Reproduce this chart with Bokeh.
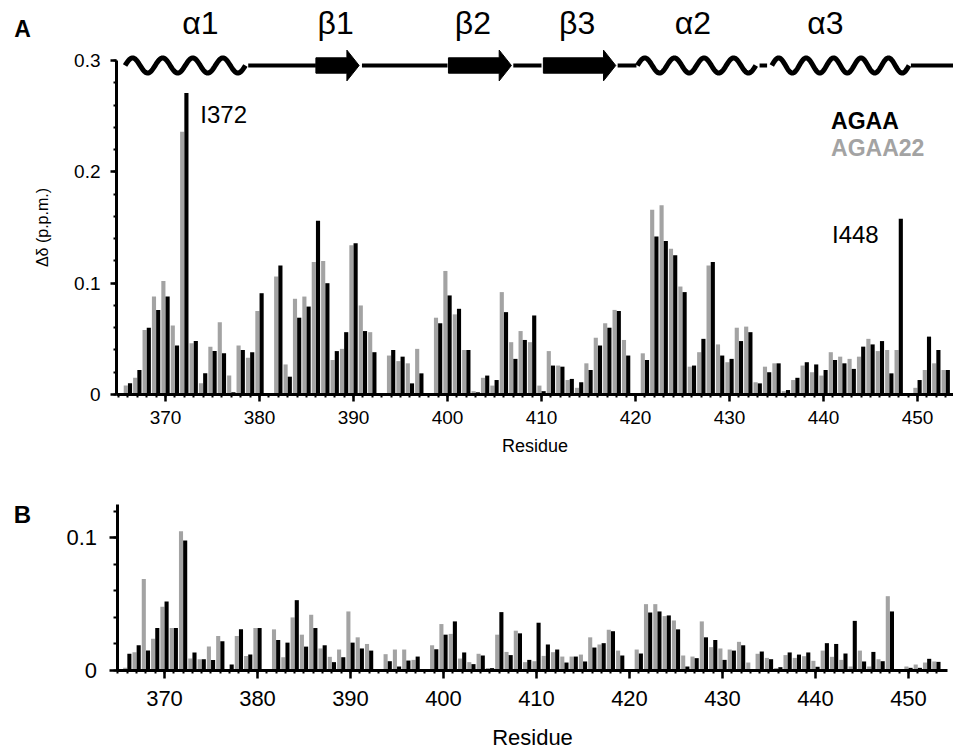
import numpy as np
from bokeh.plotting import figure
from bokeh.layouts import column
from bokeh.models import Range1d, FixedTicker, Label, ColumnDataSource
from bokeh.transform import dodge
from bokeh.embed import file_html
from bokeh.resources import INLINE

FONT = "Liberation Sans"
GRAY = "#a3a3a3"
BLACK = "#000000"

# Residues with measured chemical-shift perturbations (gaps: 381, 393, 398, 420, 449)
residue = [366, 367, 368, 369, 370, 371, 372, 373, 374, 375, 376, 377, 378, 379, 380,
           382, 383, 384, 385, 386, 387, 388, 389, 390, 391, 392,
           394, 395, 396, 397,
           399, 400, 401, 402, 403, 404, 405, 406, 407, 408, 409, 410, 411, 412, 413,
           414, 415, 416, 417, 418, 419,
           421, 422, 423, 424, 425, 426, 427, 428, 429, 430, 431, 432, 433, 434, 435,
           436, 437, 438, 439, 440, 441, 442, 443, 444, 445, 446, 447, 448,
           450, 451, 452, 453]

# Panel A: delta-delta (p.p.m.)
agaa_a = [0.010, 0.022, 0.060, 0.076, 0.088, 0.044, 0.271, 0.048, 0.019, 0.039, 0.037, 0.002, 0.040, 0.038, 0.091,
          0.116, 0.016, 0.069, 0.079, 0.156, 0.100, 0.039, 0.056, 0.136, 0.057, 0.038,
          0.040, 0.034, 0.010, 0.019,
          0.064, 0.089, 0.077, 0.040, 0.002, 0.017, 0.013, 0.074, 0.032, 0.049, 0.071, 0.003, 0.026, 0.025, 0.014,
          0.011, 0.022, 0.044, 0.060, 0.075, 0.035,
          0.031, 0.142, 0.138, 0.125, 0.092, 0.026, 0.050, 0.119, 0.035, 0.032, 0.048, 0.056, 0.010, 0.020, 0.028,
          0.004, 0.015, 0.029, 0.027, 0.022, 0.031, 0.028, 0.023, 0.043, 0.045, 0.048, 0.019, 0.158,
          0.013, 0.052, 0.040, 0.022]
agaa22_a = [0.008, 0.015, 0.058, 0.088, 0.102, 0.062, 0.236, 0.046, 0.010, 0.043, 0.065, 0.017, 0.044, 0.033, 0.075,
            0.106, 0.027, 0.086, 0.088, 0.119, 0.120, 0.031, 0.041, 0.134, 0.080, 0.056,
            0.035, 0.030, 0.028, 0.041,
            0.069, 0.111, 0.072, 0.040, 0.003, 0.015, 0.008, 0.092, 0.047, 0.057, 0.047, 0.008, 0.039, 0.026, 0.013,
            0.006, 0.028, 0.051, 0.064, 0.076, 0.049,
            0.037, 0.166, 0.170, 0.131, 0.097, 0.025, 0.038, 0.116, 0.045, 0.029, 0.060, 0.061, 0.011, 0.025, 0.028,
            0.003, 0.013, 0.026, 0.020, 0.017, 0.038, 0.034, 0.032, 0.034, 0.050, 0.039, 0.040, 0.040,
            0.006, 0.022, 0.028, 0.022]

# Panel B
agaa_b = [0.0126, 0.019, 0.015, 0.032, 0.052, 0.032, 0.098, 0.0136, 0.0085, 0.008, 0.022, 0.0045, 0.031, 0.012, 0.032,
          0.023, 0.021, 0.053, 0.018, 0.032, 0.019, 0.0063, 0.010, 0.021, 0.0166, 0.015,
          0.007, 0.003, 0.0075, 0.0105,
          0.016, 0.027, 0.037, 0.0136, 0.0048, 0.0113, 0.0018, 0.044, 0.0116, 0.028, 0.008, 0.036, 0.0196, 0.0158, 0.006,
          0.0105, 0.0068, 0.0173, 0.0206, 0.0296, 0.0113,
          0.0128, 0.0437, 0.0445, 0.0415, 0.031, 0.003, 0.0093, 0.025, 0.023, 0.008, 0.015, 0.019, 0.0, 0.0143, 0.0085,
          0.0025, 0.0136, 0.012, 0.0136, 0.0028, 0.0206, 0.020, 0.0128, 0.0374, 0.0068, 0.014, 0.007, 0.0445,
          0.002, 0.002, 0.0088, 0.0065]
agaa22_b = [0.002, 0.0138, 0.069, 0.024, 0.048, 0.032, 0.105, 0.009, 0.0085, 0.018, 0.026, 0.0, 0.026, 0.011, 0.032,
            0.031, 0.010, 0.040, 0.027, 0.042, 0.0166, 0.0103, 0.0158, 0.0445, 0.025, 0.020,
            0.0123, 0.0158, 0.0158, 0.008,
            0.019, 0.035, 0.0276, 0.009, 0.0063, 0.0126, 0.0018, 0.027, 0.014, 0.030, 0.0063, 0.007, 0.011, 0.0138, 0.0105,
            0.0105, 0.012, 0.025, 0.0196, 0.0307, 0.015,
            0.0158, 0.050, 0.050, 0.041, 0.0377, 0.0113, 0.0105, 0.037, 0.0176, 0.0166, 0.0158, 0.0216, 0.006, 0.0126, 0.0095,
            0.0018, 0.0116, 0.0095, 0.0108, 0.0073, 0.015, 0.0103, 0.008, 0.003, 0.015, 0.003, 0.0085, 0.056,
            0.003, 0.0045, 0.006, 0.0068]

# Secondary structure (residue numbers)
ss_kind = ["helix", "coil", "strand", "coil", "strand", "coil", "strand", "coil",
           "helix", "coil", "helix", "coil"]
ss_start = [365.7, 378.8, 386.0, 390.9, 400.1, 407.0, 410.2, 418.1, 420.2, 433.2, 434.5, 449.3]
ss_end = [378.5, 386.0, 390.6, 400.0, 406.8, 410.0, 417.9, 420.1, 432.8, 434.0, 449.1, 454.5]
ss_names = ["α1", "β1", "β2", "β3", "α2", "α3"]
ss_name_pos = [373.7, 388.1, 402.7, 413.8, 426.1, 440.2]

x_ticks = list(range(370, 451, 10))
x_minor = list(range(365, 454))

src = ColumnDataSource(dict(residue=residue, agaa_a=agaa_a, agaa22_a=agaa22_a,
                            agaa_b=agaa_b, agaa22_b=agaa22_b))


def style_axes(p, tick_font, major_x_out, major_y_out):
    for ax in (p.xaxis[0], p.yaxis[0]):
        ax.axis_line_width = 3
        ax.axis_line_color = BLACK
        ax.major_tick_line_width = 2.5
        ax.minor_tick_line_width = 2
        ax.major_tick_in = 0
        ax.minor_tick_in = 0
        ax.major_label_text_font = FONT
        ax.major_label_text_font_size = tick_font
        ax.major_label_text_color = BLACK
        ax.axis_label_text_font = FONT
        ax.axis_label_text_font_style = "normal"
        ax.axis_label_text_color = BLACK
    p.xaxis[0].major_tick_out = major_x_out
    p.xaxis[0].minor_tick_out = 3
    p.yaxis[0].major_tick_out = major_y_out
    p.yaxis[0].minor_tick_out = 3
    p.xgrid.grid_line_color = None
    p.ygrid.grid_line_color = None
    p.outline_line_color = None


def draw_bars(p, black_col, gray_col):
    p.vbar(x=dodge("residue", -0.225, range=p.x_range), top=gray_col, bottom=0, width=0.44,
           source=src, fill_color=GRAY, line_color=None)
    p.vbar(x=dodge("residue", 0.225, range=p.x_range), top=black_col, bottom=0, width=0.44,
           source=src, fill_color=BLACK, line_color=None)


# ---------------- Panel A ----------------
# the frame fills the whole canvas; both axes are pinned at the data origin
A_START, A_END = 364.79, 453.83
pA = figure(width=953, height=462, output_backend="svg", toolbar_location=None,
            x_range=Range1d(352.447, A_END), y_range=Range1d(-0.0611, 0.354),
            min_border=0, background_fill_color="white", border_fill_color="white")
draw_bars(pA, "agaa_a", "agaa22_a")

pA.xaxis.ticker = FixedTicker(ticks=x_ticks, minor_ticks=x_minor)
pA.xaxis.bounds = (A_START, A_END)
pA.xaxis.fixed_location = 0
pA.yaxis.ticker = FixedTicker(ticks=[0, 0.1, 0.2, 0.3],
                              minor_ticks=[round(0.02 * i, 2) for i in range(16)])
pA.yaxis.major_label_overrides = {0: "0", 0.1: "0.1", 0.2: "0.2", 0.3: "0.3"}
pA.yaxis.bounds = (0, 0.3)
pA.yaxis.fixed_location = A_START
pA.xaxis.axis_label = "Residue"
pA.yaxis.axis_label = "Δδ (p.p.m.)"
style_axes(pA, "19px", 7, 6)
pA.xaxis.major_label_standoff = 10
pA.yaxis.major_label_standoff = 10
pA.xaxis.axis_label_text_font_size = "18px"
pA.xaxis.axis_label_standoff = 8
pA.yaxis.axis_label_text_font_size = "16px"
pA.yaxis.axis_label_standoff = 20

# secondary-structure cartoon along the top of panel A
y0 = 0.2956
amp = 0.0068
body_h = 0.0069
head_h = 0.0138
head_len = 1.3
arrow_xs, arrow_ys = [], []
for kind, s, e in zip(ss_kind, ss_start, ss_end):
    if kind == "helix":
        turns = round((e - s) / 3.0)
        xs = np.linspace(s, e, 240)
        ys = y0 + amp * np.sin(2 * np.pi * turns * (xs - s) / (e - s))
        pA.line(xs, ys, line_color=BLACK, line_width=5, line_join="round", line_cap="butt")
    elif kind == "strand":
        h = e - head_len
        arrow_xs.append([s, h, h, e, h, h, s])
        arrow_ys.append([y0 - body_h, y0 - body_h, y0 - head_h, y0, y0 + head_h, y0 + body_h, y0 + body_h])
    else:
        pA.segment(x0=[s], y0=[y0], x1=[e], y1=[y0], line_color=BLACK, line_width=4)
pA.patches(arrow_xs, arrow_ys, fill_color=BLACK, line_color=BLACK, line_width=1)

for name, xpos in zip(ss_names, ss_name_pos):
    pA.add_layout(Label(x=xpos, y=0.3335, text=name, text_font=FONT, text_font_size="32px",
                        text_align="center", text_baseline="middle", text_color=BLACK))

pA.add_layout(Label(x=373.7, y=0.2516, text="I372", text_font=FONT, text_font_size="24px",
                    text_align="left", text_baseline="middle", text_color=BLACK))
pA.add_layout(Label(x=440.9, y=0.1438, text="I448", text_font=FONT, text_font_size="24px",
                    text_align="left", text_baseline="middle", text_color=BLACK))
pA.add_layout(Label(x=440.8, y=0.246, text="AGAA", text_font=FONT, text_font_size="23px",
                    text_font_style="bold", text_align="left", text_baseline="middle",
                    text_color=BLACK))
pA.add_layout(Label(x=440.8, y=0.2215, text="AGAA22", text_font=FONT, text_font_size="23px",
                    text_font_style="bold", text_align="left", text_baseline="middle",
                    text_color=GRAY))
pA.add_layout(Label(x=354.79, y=0.328, text="A", text_font=FONT, text_font_size="23px",
                    text_font_style="bold", text_align="center", text_baseline="middle",
                    text_color=BLACK))

# ---------------- Panel B ----------------
B_START, B_END = 364.9, 454.15
pB = figure(width=953, height=286, output_backend="svg", toolbar_location=None,
            x_range=Range1d(352.366, 454.84), y_range=Range1d(-0.05878, 0.15674),
            min_border=0, background_fill_color="white", border_fill_color="white")
draw_bars(pB, "agaa_b", "agaa22_b")

pB.xaxis.ticker = FixedTicker(ticks=x_ticks, minor_ticks=x_minor)
pB.xaxis.bounds = (B_START, B_END)
pB.xaxis.fixed_location = 0
pB.yaxis.ticker = FixedTicker(ticks=[0, 0.1], minor_ticks=[round(0.02 * i, 2) for i in range(7)])
pB.yaxis.major_label_overrides = {0: "0", 0.1: "0.1"}
pB.yaxis.bounds = (0, 0.1251)
pB.yaxis.fixed_location = B_START
pB.xaxis.axis_label = "Residue"
style_axes(pB, "22px", 8, 8)
pB.yaxis[0].minor_tick_out = 4
pB.xaxis.major_label_standoff = 13
pB.yaxis.major_label_standoff = 12
pB.xaxis.axis_label_text_font_size = "22px"
pB.xaxis.axis_label_standoff = 15

pB.add_layout(Label(x=354.73, y=0.1176, text="B", text_font=FONT, text_font_size="24px",
                    text_font_style="bold", text_align="center", text_baseline="middle",
                    text_color=BLACK))

layout = column(pA, pB, spacing=0)
open("out.html", "w").write(file_html(layout, INLINE))
